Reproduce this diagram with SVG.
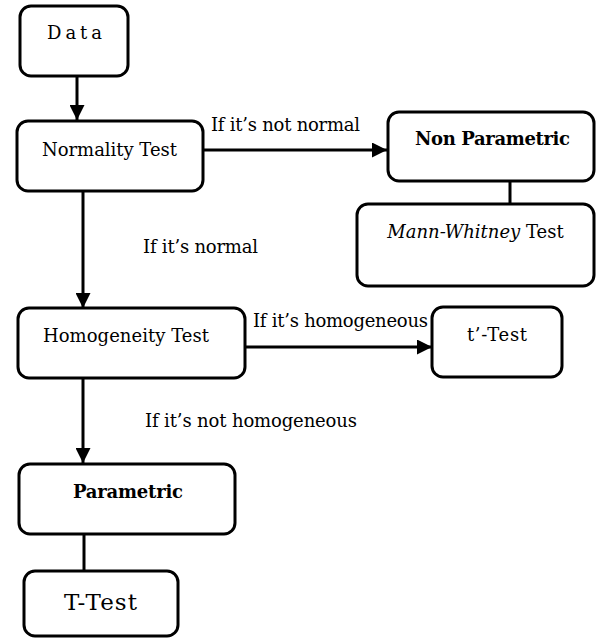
<svg xmlns="http://www.w3.org/2000/svg" width="597" height="638" viewBox="0 0 597 638">
  <style>
    .box { fill: #ffffff; stroke: #000000; stroke-width: 3; }
    .edge { fill: none; stroke: #000000; stroke-width: 3; }
    text { font-family: "DejaVu Serif", "Liberation Serif", serif; font-size: 18px; fill: #000000; }
    .c { text-anchor: middle; }
    .b { font-weight: bold; }
    .big { font-size: 23px; }
  </style>
  <defs>
    <marker id="arrow" viewBox="0 0 10 10" refX="10" refY="5" markerWidth="5" markerHeight="5" markerUnits="strokeWidth" orient="auto">
      <path d="M0,0 L10,5 L0,10 Z" fill="#000000"/>
    </marker>
  </defs>
  <rect width="597" height="638" fill="#ffffff"/>

  <!-- connectors -->
  <g id="connectors">
    <line class="edge" x1="77" y1="76" x2="77" y2="120" marker-end="url(#arrow)"/>
    <line class="edge" x1="203" y1="150" x2="387" y2="150" marker-end="url(#arrow)"/>
    <line class="edge" x1="510" y1="181" x2="510" y2="204"/>
    <line class="edge" x1="83" y1="191" x2="83" y2="308" marker-end="url(#arrow)"/>
    <line class="edge" x1="245" y1="347" x2="432" y2="347" marker-end="url(#arrow)"/>
    <line class="edge" x1="83" y1="378" x2="83" y2="463" marker-end="url(#arrow)"/>
    <line class="edge" x1="84" y1="534" x2="84" y2="571"/>
    <text class="c" x="285.5" y="131" textLength="149">If it’s not normal</text>
    <text class="c" x="200.5" y="253" textLength="115">If it’s normal</text>
    <text class="c" x="340.5" y="327" textLength="175">If it’s homogeneous</text>
    <text class="c" x="251" y="427" textLength="212">If it’s not homogeneous</text>
  </g>

  <g id="data">
    <rect class="box" x="20" y="6" width="108" height="70" rx="11"/>
    <text class="c" x="74.5" y="39" textLength="55">D a t a</text>
  </g>

  <g id="normality">
    <rect class="box" x="17" y="121" width="186" height="70" rx="11"/>
    <text class="c" x="109.5" y="156" textLength="135">Normality Test</text>
  </g>

  <g id="nonparametric">
    <rect class="box" x="388" y="112" width="206" height="69" rx="11"/>
    <text class="c b" x="492.5" y="145" textLength="155">Non Parametric</text>
  </g>

  <g id="mannwhitney">
    <rect class="box" x="357" y="204" width="237" height="82" rx="11"/>
    <text class="c" x="475.5" y="238"><tspan font-style="italic">Mann-Whitney</tspan> Test</text>
  </g>

  <g id="homogeneity">
    <rect class="box" x="18" y="308" width="227" height="70" rx="11"/>
    <text class="c" x="126" y="342" textLength="166">Homogeneity Test</text>
  </g>

  <g id="ttest-prime">
    <rect class="box" x="432" y="307" width="130" height="70" rx="11"/>
    <text class="c" x="497" y="341" textLength="60">t’-Test</text>
  </g>

  <g id="parametric">
    <rect class="box" x="19" y="464" width="216" height="70" rx="11"/>
    <text class="c b" x="128" y="498" textLength="110">Parametric</text>
  </g>

  <g id="ttest">
    <rect class="box" x="24" y="571" width="154" height="65" rx="11"/>
    <text class="c big" x="100.5" y="610" textLength="73">T-Test</text>
  </g>
</svg>
